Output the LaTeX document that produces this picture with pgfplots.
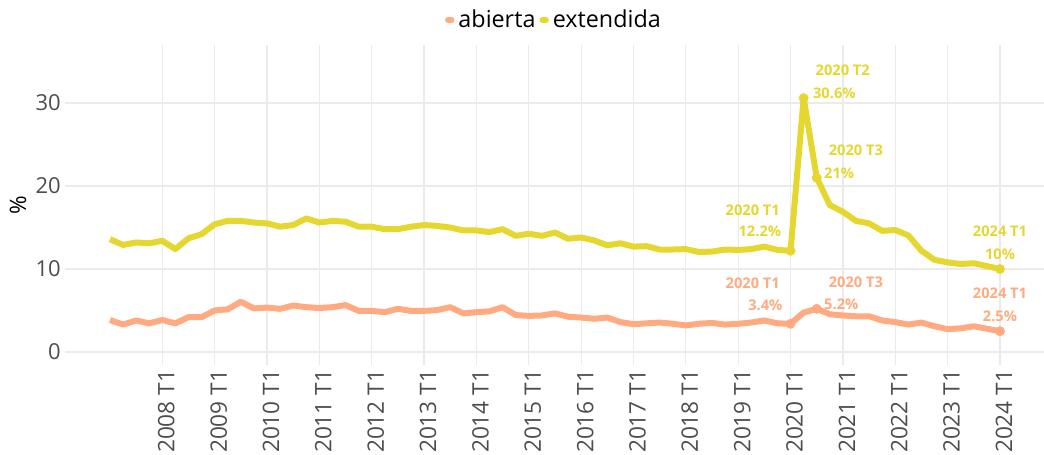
\documentclass[border=0pt]{standalone}
\usepackage{fontspec}
\setmainfont{Open Sans}
\usepackage{pgfplots}
\pgfplotsset{compat=1.18}
\definecolor{cab}{RGB}{255,170,128}
\definecolor{cex}{RGB}{229,215,48}
\definecolor{gridc}{RGB}{235,235,235}
\definecolor{tickc}{RGB}{77,77,77}

\pgfplotstableread{
i v
0 13.6
1 12.9
2 13.2
3 13.1
4 13.4
5 12.4
6 13.7
7 14.2
8 15.4
9 15.8
10 15.8
11 15.6
12 15.5
13 15.1
14 15.3
15 16.1
16 15.6
17 15.8
18 15.7
19 15.1
20 15.1
21 14.8
22 14.8
23 15.1
24 15.3
25 15.2
26 15.0
27 14.65
28 14.65
29 14.45
30 14.8
31 14.0
32 14.25
33 14.0
34 14.4
35 13.65
36 13.8
37 13.45
38 12.85
39 13.1
40 12.7
41 12.75
42 12.35
43 12.35
44 12.4
45 12.05
46 12.1
47 12.35
48 12.3
49 12.4
50 12.7
51 12.3
52 12.2
53 30.6
54 21.0
55 17.7
56 16.9
57 15.8
58 15.5
59 14.6
60 14.7
61 14.05
62 12.2
63 11.1
64 10.8
65 10.6
66 10.7
67 10.35
68 10.0
}\extendida

\pgfplotstableread{
i v
0 3.85
1 3.3
2 3.8
3 3.45
4 3.85
5 3.45
6 4.2
7 4.2
8 5.0
9 5.15
10 6.05
11 5.25
12 5.35
13 5.2
14 5.6
15 5.4
16 5.3
17 5.4
18 5.65
19 4.95
20 4.95
21 4.8
22 5.2
23 4.95
24 4.95
25 5.05
26 5.4
27 4.65
28 4.8
29 4.9
30 5.4
31 4.45
32 4.35
33 4.4
34 4.65
35 4.25
36 4.15
37 4.0
38 4.15
39 3.6
40 3.35
41 3.45
42 3.55
43 3.4
44 3.2
45 3.4
46 3.5
47 3.3
48 3.4
49 3.55
50 3.8
51 3.45
52 3.4
53 4.75
54 5.2
55 4.55
56 4.4
57 4.3
58 4.3
59 3.8
60 3.6
61 3.3
62 3.55
63 3.1
64 2.75
65 2.85
66 3.1
67 2.8
68 2.5
}\abierta

\begin{document}
\begin{tikzpicture}
\useasboundingbox (-49.1pt,-66.75pt) rectangle (733.9pt,273.75pt);
\begin{axis}[
 at={(0,0)}, anchor=south west,
 scale only axis, width=734.25pt, height=240pt,
 xmin=-3.4, xmax=71.4, ymin=-1.57, ymax=37,
 axis line style={draw=none},
 xtick={4,8,...,68},
 xticklabels={2008 T1,2009 T1,2010 T1,2011 T1,2012 T1,2013 T1,2014 T1,2015 T1,2016 T1,2017 T1,2018 T1,2019 T1,2020 T1,2021 T1,2022 T1,2023 T1,2024 T1},
 ytick={0,10,20,30},
 grid=major, major grid style={gridc, line width=0.9pt},
 major tick length=0pt,
 /pgf/number format/assume math mode=true,
 y tick label style={font=\fontsize{16.5}{19}\selectfont, text=tickc},
 x tick label style={font=\fontsize{17}{19}\selectfont, text=tickc, rotate=90, anchor=east, xshift=0pt, yshift=-3pt},
 ylabel={\%}, ylabel style={font=\fontsize{17}{19}\selectfont, text=black},
 legend style={at={(0.5,1)}, anchor=center, yshift=18.75pt, draw=none, fill=none, legend columns=2,
   font=\fontsize{17.5}{19}\selectfont, inner sep=0pt, nodes={inner xsep=3pt},
   /tikz/every even column/.append style={column sep=0pt}},
 legend image code/.code={\draw[#1, line width=4.5pt, line cap=round] (0pt,0pt) -- (2.5pt,0pt);},
 clip=false,
]
\addplot[cab, line width=4.5pt, line join=round] table[x=i,y=v] {\abierta};
\addlegendentry{abierta}
\addplot[cex, line width=4.5pt, line join=round] table[x=i,y=v] {\extendida};
\addlegendentry{extendida}
\addplot[forget plot, only marks, mark=*, mark size=3.5pt, cab, mark options={fill=cab, draw=cab}] coordinates {(52,3.4) (54,5.2) (68,2.5)};
\addplot[forget plot, only marks, mark=*, mark size=3.5pt, cex, mark options={fill=cex, draw=cex}] coordinates {(52,12.2) (53,30.6) (54,21.0) (68,10.0)};

\tikzset{ann/.style={font=\bfseries\fontsize{11}{13}\selectfont, inner sep=0pt}}
\node[ann, text=cex, anchor=east] at (axis cs:51.2,17.1) {2020 T1};
\node[ann, text=cex, anchor=east] at (axis cs:51.3,14.5) {12.2\%};
\node[ann, text=cex, anchor=west] at (axis cs:53.9,34.0) {2020 T2};
\node[ann, text=cex, anchor=west] at (axis cs:53.7,31.2) {30.6\%};
\node[ann, text=cex, anchor=west] at (axis cs:54.9,24.3) {2020 T3};
\node[ann, text=cex, anchor=west] at (axis cs:54.55,21.6) {21\%};
\node[ann, text=cex, anchor=center] at (axis cs:68,14.5) {2024 T1};
\node[ann, text=cex, anchor=center] at (axis cs:68,11.8) {10\%};
\node[ann, text=cab, anchor=east] at (axis cs:51.2,8.3) {2020 T1};
\node[ann, text=cab, anchor=east] at (axis cs:51.4,5.66) {3.4\%};
\node[ann, text=cab, anchor=west] at (axis cs:54.9,8.43) {2020 T3};
\node[ann, text=cab, anchor=west] at (axis cs:54.55,5.78) {5.2\%};
\node[ann, text=cab, anchor=center] at (axis cs:68,7.1) {2024 T1};
\node[ann, text=cab, anchor=center] at (axis cs:68,4.34) {2.5\%};
\end{axis}
\end{tikzpicture}
\end{document}
